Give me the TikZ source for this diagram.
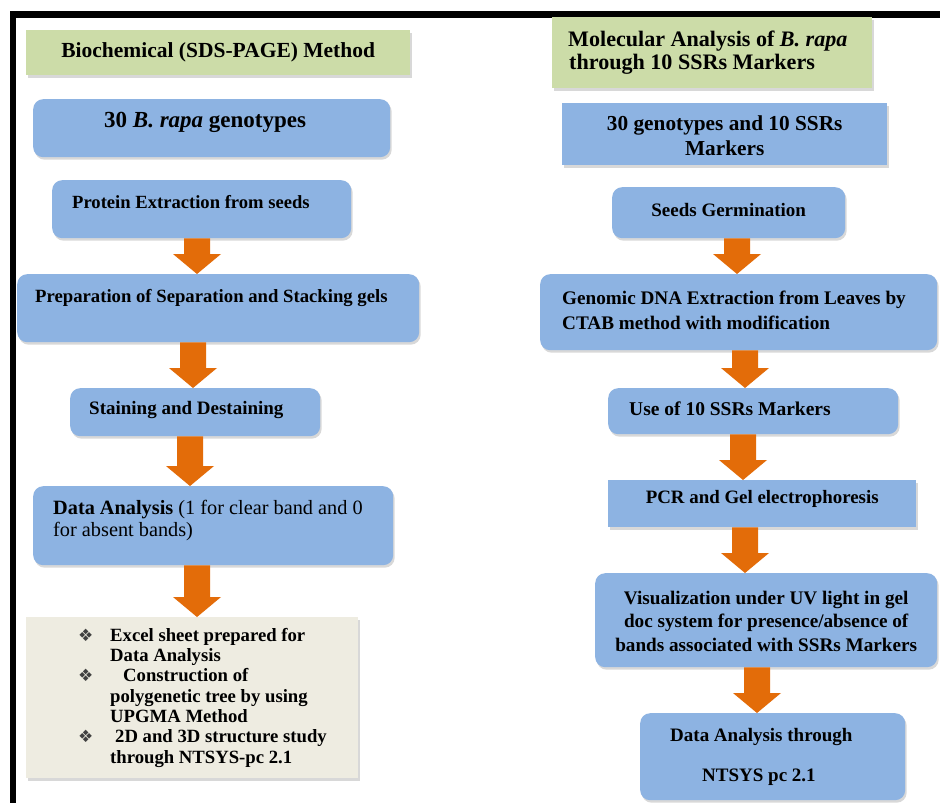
\documentclass[tikz,border=0pt]{standalone}
\usepackage{fontspec}
\setmainfont{Liberation Serif}
\newfontfamily\symfont{DejaVu Sans}
\usetikzlibrary{calc,shadows}
\definecolor{boxblue}{HTML}{8DB3E2}
\definecolor{titlegreen}{HTML}{CCDCA8}
\definecolor{notegray}{HTML}{EEECE1}
\definecolor{arroworange}{HTML}{E36C09}
\newcommand\bul{{\symfont\fontsize{17}{17}\selectfont\color{black!75}❖}}
\newcommand\btext[3]{\raisebox{#1}[\height][\depth]{\parbox{#2}{#3}}}
\newcommand\flowarrow[3]{%
  \fill[arrowfill] let \p1=(#1.south), \p2=(#2.north) in
  ({#3pt-13pt},\y1) -- ({#3pt+13pt},\y1) -- ({#3pt+13pt},{\y2+20pt}) --
  ({#3pt+24pt},{\y2+20pt}) -- (#3pt,\y2) -- ({#3pt-24pt},{\y2+20pt}) --
  ({#3pt-13pt},{\y2+20pt}) -- cycle;}
\tikzset{
  base/.style={anchor=north west, inner sep=0pt, font=\bfseries,
    drop shadow={shadow xshift=1.5pt, shadow yshift=-2.5pt, opacity=0.3}},
  bluebox/.style={base, fill=boxblue},
  roundbox/.style={bluebox, rounded corners=10pt},
  titlebox/.style={base, fill=titlegreen},
  notebox/.style={base, fill=notegray},
  arrowfill/.style={fill=arroworange},
  frame/.style={line width=6.5pt, draw=black}
}
\begin{document}
\begin{tikzpicture}[x=1pt,y=1pt]
\fill[white] (0,0) rectangle (940,-803);
\path[use as bounding box] (0,0) rectangle (940,-803);
\draw[frame] (13,-803) -- (13,-14.5) -- (940,-14.5);

% ---------- left column ----------
\node[titlebox, minimum width=384pt, minimum height=45pt] (t1) at (26,-30)
  {\btext{0pt}{384pt}{\centering\fontsize{21.5}{24}\selectfont Biochemical (SDS-PAGE) Method}};
\node[roundbox, minimum width=357pt, minimum height=58pt] (n1) at (33,-99)
  {\btext{6pt}{357pt}{\raggedright\fontsize{23}{26}\selectfont\hspace*{71pt}30 \textit{B. rapa} genotypes}};
\node[roundbox, minimum width=299pt, minimum height=58pt] (n2) at (52,-180)
  {\btext{7pt}{299pt}{\raggedright\fontsize{18.6}{22}\selectfont\hspace*{20pt}Protein Extraction from seeds}};
\node[roundbox, minimum width=402pt, minimum height=68pt] (n3) at (17,-274)
  {\btext{10pt}{402pt}{\raggedright\fontsize{18.7}{22}\selectfont\hspace*{18pt}Preparation of Separation and Stacking gels}};
\node[roundbox, minimum width=250pt, minimum height=48pt] (n4) at (70,-388)
  {\btext{2pt}{250pt}{\raggedright\fontsize{19}{22}\selectfont\hspace*{19pt}Staining and Destaining}};
\node[roundbox, minimum width=360pt, minimum height=79pt] (n5) at (33,-486)
  {\btext{5pt}{360pt}{\raggedright\fontsize{20.3}{22.3}\selectfont\hspace*{20pt}Data Analysis {\mdseries (1 for clear band and 0}\\
   \hspace*{20pt}{\mdseries for absent bands)}}};
\node[notebox, minimum width=332pt, minimum height=161pt] (b) at (26,-617)
  {\btext{0pt}{332pt}{\raggedright\fontsize{18.7}{20.3}\selectfont
   \hspace*{52pt}\makebox[32pt][l]{\bul}Excel sheet prepared for\\
   \hspace*{84pt}Data Analysis\\
   \hspace*{52pt}\makebox[45pt][l]{\bul}Construction of\\
   \hspace*{84pt}polygenetic tree by using\\
   \hspace*{84pt}UPGMA Method\\
   \hspace*{52pt}\makebox[37pt][l]{\bul}2D and 3D structure study\\
   \hspace*{84pt}through NTSYS-pc 2.1}};

% ---------- right column ----------
\node[titlebox, minimum width=320pt, minimum height=71pt] (t2) at (552,-17)
  {\btext{0pt}{320pt}{\raggedright\fontsize{22.1}{23.5}\selectfont\hspace*{16pt}Molecular Analysis of \textit{B. rapa}\\
   \hspace*{17pt}through 10 SSRs Markers}};
\node[bluebox, minimum width=325pt, minimum height=62pt] (n6) at (562,-103)
  {\btext{-2pt}{325pt}{\centering\fontsize{21.3}{25}\selectfont 30 genotypes and 10 SSRs\\ Markers}};
\node[roundbox, minimum width=233pt, minimum height=51pt] (n7) at (612,-187)
  {\btext{3pt}{233pt}{\centering\fontsize{19}{22}\selectfont Seeds Germination}};
\node[roundbox, minimum width=397pt, minimum height=76pt] (n8) at (540,-274)
  {\btext{2pt}{397pt}{\raggedright\fontsize{19.2}{25}\selectfont\hspace*{22pt}Genomic DNA Extraction from Leaves by\\
   \hspace*{22pt}CTAB method with modification}};
\node[roundbox, minimum width=290pt, minimum height=46pt] (n9) at (608,-388)
  {\btext{2pt}{290pt}{\raggedright\fontsize{19.5}{22}\selectfont\hspace*{21pt}Use of 10 SSRs Markers}};
\node[bluebox, minimum width=308pt, minimum height=47pt] (n10) at (608,-480)
  {\btext{5pt}{308pt}{\centering\fontsize{18.9}{22}\selectfont PCR and Gel electrophoresis}};
\node[roundbox, minimum width=342pt, minimum height=94pt] (n11) at (595,-573)
  {\btext{-1pt}{342pt}{\centering\fontsize{19.2}{23.5}\selectfont Visualization under UV light in gel\\
   doc system for presence/absence of\\ bands associated with SSRs Markers}};
\node[roundbox, minimum width=265pt, minimum height=87pt] (n12) at (640,-713)
  {\btext{0pt}{265pt}{\raggedright\fontsize{19}{23.5}\selectfont\hspace*{30pt}Data Analysis through\\[16.5pt]
   \hspace*{62pt}NTSYS pc 2.1}};

% ---------- arrows ----------
\flowarrow{n2}{n3}{197}
\flowarrow{n3}{n4}{193}
\flowarrow{n4}{n5}{190}
\flowarrow{n5}{b}{197}
\flowarrow{n7}{n8}{737}
\flowarrow{n8}{n9}{745}
\flowarrow{n9}{n10}{743}
\flowarrow{n10}{n11}{745}
\flowarrow{n11}{n12}{757}
\end{tikzpicture}
\end{document}
